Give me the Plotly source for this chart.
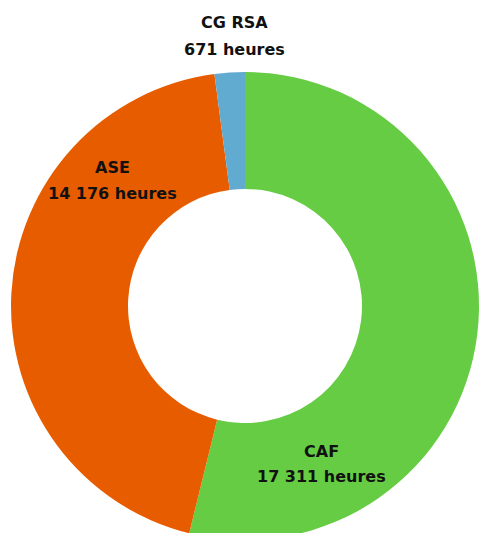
import plotly.graph_objects as go

labels = ["CAF", "ASE", "CG RSA"]
values = [17311, 14176, 671]
value_texts = ["17 311 heures", "14 176 heures", "671 heures"]
colors = ["#66CC44", "#E85C00", "#62ABD0"]

W, H = 479, 541
fig = go.Figure(go.Pie(
    labels=labels, values=values, hole=0.5, sort=False, direction="clockwise",
    rotation=0, marker=dict(colors=colors, line=dict(width=0)),
    textinfo="none", hoverinfo="label+value",
    domain=dict(x=[11 / W, 1.0], y=[1 / H, (H - 72) / H]),
    showlegend=False,
))

# label anchor: (x centre, y of first line) in pixels
label_pos = {"CAF": (321, 451), "ASE": (112, 167), "CG RSA": (234, 23)}
font = dict(family="DejaVu Sans, sans-serif", size=16, color="#111111", weight="bold")
for lab, txt in zip(labels, value_texts):
    px, py = label_pos[lab]
    for i, line in enumerate([lab, txt]):
        fig.add_annotation(
            x=px / W, y=1 - (py + 26 * i) / H, xref="paper", yref="paper",
            xanchor="center", yanchor="middle",
            text=line, showarrow=False, align="center", font=font,
        )

fig.update_layout(
    width=W, height=H, margin=dict(l=0, r=0, t=0, b=0),
    paper_bgcolor="white", plot_bgcolor="white",
)
fig.write_html("out.html", config={"displayModeBar": False},
               post_script="document.body.style.margin='0';document.body.style.overflow='hidden';document.documentElement.style.overflow='hidden';")
